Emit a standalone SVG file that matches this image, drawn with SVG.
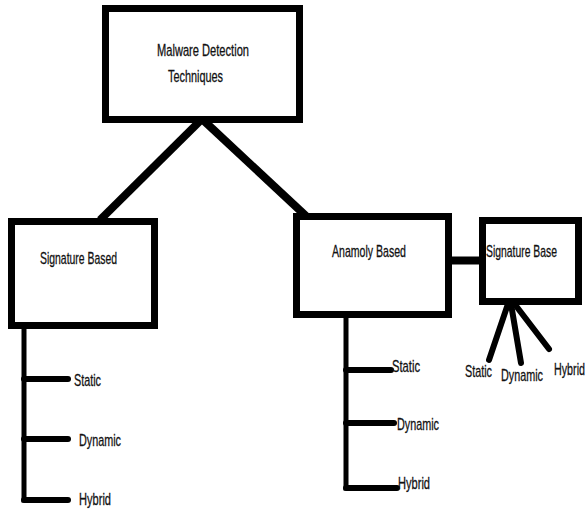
<svg xmlns="http://www.w3.org/2000/svg" width="587" height="512" viewBox="0 0 587 512">
<style>
.box{fill:#fff;stroke:#000;stroke-width:7}
.ln{stroke:#000;fill:none;stroke-width:8}
.tr{stroke:#000;fill:none;stroke-width:5}
.br{stroke:#000;fill:none;stroke-width:6;stroke-linecap:round}
text{font-family:"Liberation Sans",Arial,sans-serif;font-size:17px;fill:#111;stroke:#111;stroke-width:0.3}
</style>
<rect width="587" height="512" fill="#fff"/>
<g id="connectors">
<line class="ln" x1="202" y1="119" x2="100" y2="220"/>
<line class="ln" x1="202" y1="119" x2="306" y2="216"/>
<line class="ln" x1="450" y1="260.5" x2="482" y2="260.5" stroke-width="7"/>
<path class="tr" d="M24,327 V500 H68"/>
<line class="br" x1="24" y1="379" x2="68" y2="379"/>
<line class="br" x1="24" y1="439" x2="68" y2="439"/>
<line class="br" x1="24" y1="500" x2="68" y2="500"/>
<path class="tr" d="M346,316 V488 H397"/>
<line class="br" x1="346" y1="370" x2="391" y2="370"/>
<line class="br" x1="346" y1="423" x2="394" y2="423"/>
<line class="br" x1="346" y1="488" x2="397" y2="488"/>
<line class="br" x1="510" y1="298" x2="489" y2="360"/>
<line class="br" x1="510" y1="298" x2="521" y2="363"/>
<line class="br" x1="510" y1="298" x2="549" y2="349"/>
</g>
<g id="root">
<rect class="box" x="105.5" y="8.5" width="194" height="111"/>
<text x="157" y="56" textLength="92" lengthAdjust="spacingAndGlyphs">Malware Detection</text>
<text x="168" y="82" textLength="55" lengthAdjust="spacingAndGlyphs">Techniques</text>
</g>
<g id="signature-based">
<rect class="box" x="11.5" y="221.5" width="143" height="104"/>
<text x="40" y="264" textLength="77" lengthAdjust="spacingAndGlyphs">Signature Based</text>
</g>
<g id="anamoly-based">
<rect class="box" x="296.5" y="216.5" width="152" height="98"/>
<text x="332" y="257" textLength="74" lengthAdjust="spacingAndGlyphs">Anamoly Based</text>
</g>
<g id="signature-base">
<rect class="box" x="482.5" y="220.5" width="96" height="81"/>
<text x="486" y="257" textLength="71" lengthAdjust="spacingAndGlyphs">Signature Base</text>
</g>
<g id="left-static"><text x="74" y="386" textLength="27" lengthAdjust="spacingAndGlyphs">Static</text></g>
<g id="left-dynamic"><text x="79" y="446" textLength="42" lengthAdjust="spacingAndGlyphs">Dynamic</text></g>
<g id="left-hybrid"><text x="79" y="505" textLength="32" lengthAdjust="spacingAndGlyphs">Hybrid</text></g>
<g id="right-static"><text x="392" y="372" textLength="28" lengthAdjust="spacingAndGlyphs">Static</text></g>
<g id="right-dynamic"><text x="397" y="430" textLength="42" lengthAdjust="spacingAndGlyphs">Dynamic</text></g>
<g id="right-hybrid"><text x="398" y="489" textLength="32" lengthAdjust="spacingAndGlyphs">Hybrid</text></g>
<g id="fan-static"><text x="465" y="377" textLength="27" lengthAdjust="spacingAndGlyphs">Static</text></g>
<g id="fan-dynamic"><text x="501" y="381" textLength="42" lengthAdjust="spacingAndGlyphs">Dynamic</text></g>
<g id="fan-hybrid"><text x="554" y="375" textLength="31" lengthAdjust="spacingAndGlyphs">Hybrid</text></g>
</svg>
